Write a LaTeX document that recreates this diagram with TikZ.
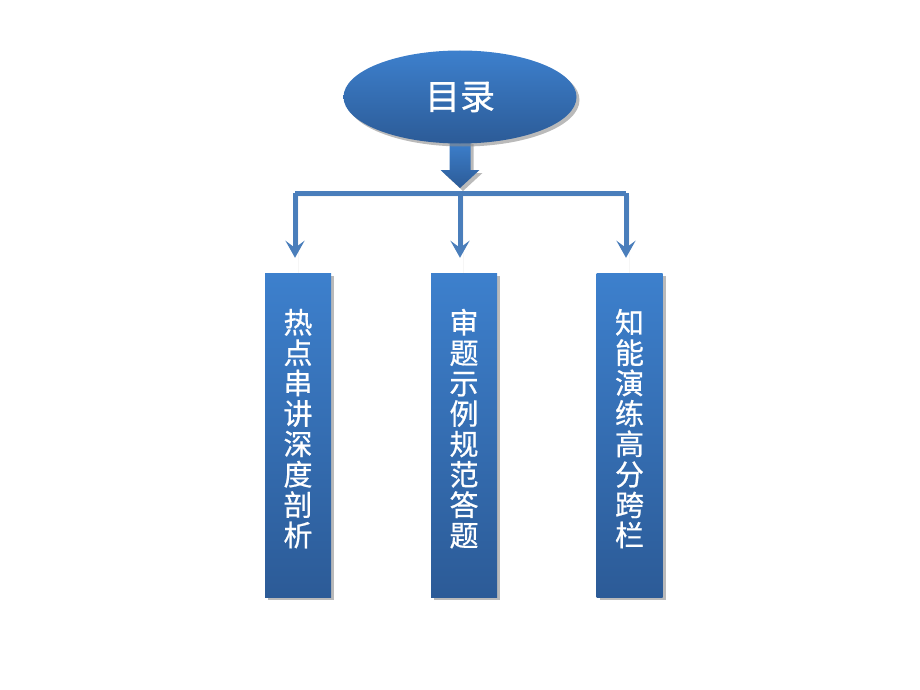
\documentclass[tikz,border=0pt]{standalone}
\usepackage{fontspec}
\newfontfamily\cjk[FakeBold=0.6]{Noto Sans CJK SC}
\usetikzlibrary{shapes.geometric,shadows,arrows.meta,calc}
\definecolor{boxtop}{HTML}{3D80CD}
\definecolor{boxbot}{HTML}{2C5B97}
\definecolor{linkblue}{HTML}{4A7EBB}
\tikzset{l/.style={font=\cjk\fontsize{29}{30.4}\selectfont}}
\tikzset{m/.style={font=\cjk\fontsize{35}{35}\selectfont}}
\tikzset{shade/.style={drop shadow={shadow xshift=3pt, shadow yshift=-3pt, fill=black!45, opacity=.6}}}
\tikzset{part/.style={rectangle, inner sep=0pt, minimum width=66pt, minimum height=324pt, text depth=15pt,
    top color=boxtop, bottom color=boxbot, shade, text=white, align=center, l}}
\tikzset{link/.style={linkblue, line width=5pt, shade}}

\begin{document}
\begin{tikzpicture}[x=1pt, y=-1pt]
  \useasboundingbox (0,0) rectangle (920,690);
  % big arrow under the title
  \path[top color=boxtop, bottom color=boxbot, shade] (460,141) ++(-10.5,0) -- ++(21,0) -- ++(0,29)
    -- ++(9,0) -- ++(-19.5,18) -- ++(-19.5,-18) -- ++(9,0) -- cycle;
  \node (title) at (460, 97) [ellipse, inner sep=0pt, minimum width=233pt, minimum height=93pt,
    top color=boxtop, bottom color=boxbot, shade, text=white, m] {目录};
  \node (c1) at (298, 435) [part] {热\\点\\串\\讲\\深\\度\\剖\\析};
  \node (c2) at (464, 435) [part] {审\\题\\示\\例\\规\\范\\答\\题};
  \node (c3) at (629.5, 435) [part] {知\\能\\演\\练\\高\\分\\跨\\栏};
  \coordinate (busL) at (295, 193);
  \coordinate (busM) at (460, 193);
  \coordinate (busR) at (626, 193);
  \draw[link] (busL) -- (busR);
  \foreach \b/\c in {busL/c1, busM/c2, busR/c3}
    \draw[link, -{Stealth[length=17pt, width=19pt, inset=7pt]}, shorten >=15pt] (\b) -- (\b |- \c.north);
\end{tikzpicture}
\end{document}
